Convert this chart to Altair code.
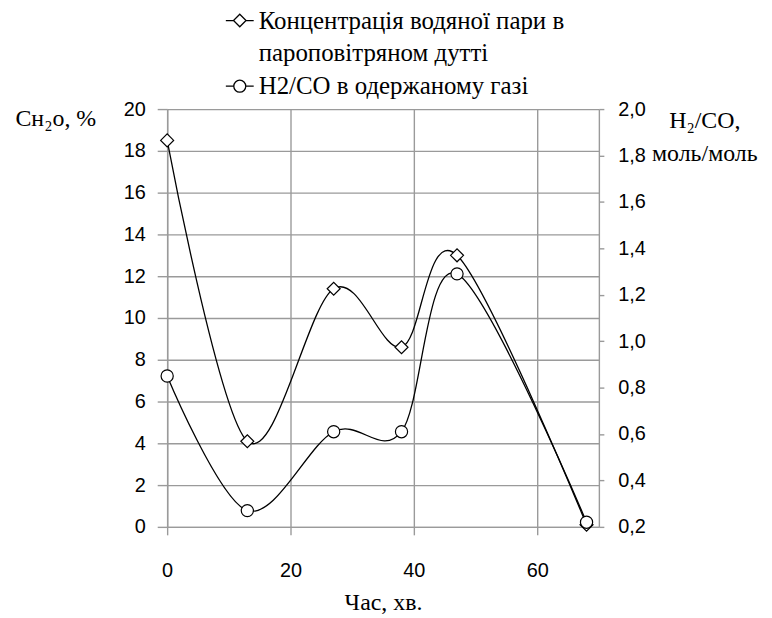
import altair as alt
import pandas as pd

# ---- data ----
time_min = [0, 13, 27, 38, 47, 68]
steam_conc = [18.5, 4.1, 11.4, 8.6, 13.0, 0.1]      # left axis, %
h2_co_ratio = [0.85, 0.27, 0.61, 0.61, 1.29, 0.22]  # right axis, mol/mol

legend_labels = [
    "Концентрація водяної пари в",
    "пароповітряном дутті",
    "H2/CO в одержаному газі",
]
x_ticks = [0, 20, 40, 60]
left_ticks = [0, 2, 4, 6, 8, 10, 12, 14, 16, 18, 20]
right_ticks = [0.2, 0.4, 0.6, 0.8, 1.0, 1.2, 1.4, 1.6, 1.8, 2.0]

x_title = "Час, хв."
left_title = "Cʜ₂ᴏ, %"
right_title = ["H₂/CO,", "моль/моль"]

df = pd.DataFrame({"t": time_min, "c": steam_conc, "r": h2_co_ratio})
legend_df = pd.DataFrame({"label": legend_labels})

GRID = "#9a9a9a"
SANS = "Liberation Sans"
SERIF = "Liberation Serif"

common_axis = dict(
    gridColor=GRID, gridWidth=1.4, domainColor=GRID, domainWidth=1.4,
    tickColor=GRID, tickWidth=1.4, labelFont=SANS, labelFontSize=20,
    labelColor="black", titleFont=SERIF,
    titleFontWeight="normal", titleColor="black",
)

x_enc = alt.X(
    "t:Q",
    scale=alt.Scale(domain=[0, 70], nice=False),
    axis=alt.Axis(
        values=x_ticks, title=x_title, grid=True, tickSize=8,
        labelPadding=26, titlePadding=10, titleFontSize=24,
        labelFlush=False, **common_axis
    ),
)

y_left = alt.Y(
    "c:Q",
    scale=alt.Scale(domain=[0, 20], nice=False),
    axis=alt.Axis(
        values=left_ticks, orient="left", grid=True, tickSize=10,
        labelPadding=12, title=left_title, titleAngle=0, titleAlign="left",
        titleBaseline="middle", titleX=-153, titleY=10, titleFontSize=24,
        **common_axis
    ),
)

y_right = alt.Y(
    "r:Q",
    scale=alt.Scale(domain=[0.2, 2.0], nice=False),
    axis=alt.Axis(
        values=right_ticks, orient="right", grid=False, tickSize=5,
        labelPadding=14,
        labelExpr="replace(format(datum.value, '.1f'), '.', ',')",
        title=right_title, titleAngle=0, titleAlign="center",
        titleBaseline="top", titleX=106, titleY=0, titleLineHeight=33,
        titleFontSize=24, **common_axis
    ),
)

base = alt.Chart(df)

left_line = base.mark_line(color="black", strokeWidth=1.3,
                           interpolate="cardinal").encode(x=x_enc, y=y_left)
left_pts = base.mark_point(shape="diamond", size=170, filled=True,
                           fill="white", stroke="black", strokeWidth=1.2,
                           opacity=1).encode(x=x_enc, y=y_left)

right_line = base.mark_line(color="black", strokeWidth=1.3,
                            interpolate="cardinal").encode(x=x_enc, y=y_right)
right_pts = base.mark_point(shape="circle", size=150, filled=True,
                            fill="white", stroke="black", strokeWidth=1.2,
                            opacity=1).encode(x=x_enc, y=y_right)

diamond_sym = "M-1,0L-0.45,0M0.45,0L1,0M0,-0.45L0.45,0L0,0.45L-0.45,0Z"
circle_sym = ("M-1,0L-0.43,0M0.43,0L1,0M-0.43,0A0.43,0.43,0,1,0,0.43,0"
              "A0.43,0.43,0,1,0,-0.43,0Z")
blank_sym = "M0,0Z"

legend_layer = alt.Chart(legend_df).mark_point(
    color="black", opacity=1, filled=False, strokeWidth=1.3
).encode(
    shape=alt.Shape(
        "label:N",
        scale=alt.Scale(domain=legend_labels,
                        range=[diamond_sym, blank_sym, circle_sym]),
        legend=alt.Legend(
            orient="none", legendX=58, legendY=-104, title=None,
            labelFont=SERIF, labelFontSize=25, labelColor="black",
            labelLimit=600, labelOffset=4, symbolSize=784,
            symbolStrokeColor="black", symbolStrokeWidth=1.3,
            rowPadding=5, padding=0,
        ),
    )
).transform_filter("false")

left = alt.layer(left_line, left_pts)
right = alt.layer(right_line, right_pts)

chart = alt.layer(left, right, legend_layer).resolve_scale(
    y="independent"
).properties(
    width=434, height=420,
    padding={"left": 160, "top": 100, "right": 166, "bottom": 90},
    autosize=alt.AutoSizeParams(type="none"),
).configure_view(stroke=None).configure_legend(
    labelFont=SERIF
).configure_axis(
    titleFont=SERIF, labelFont=SANS
)

chart.save("out.html", embed_options={"renderer": "svg", "actions": False})
